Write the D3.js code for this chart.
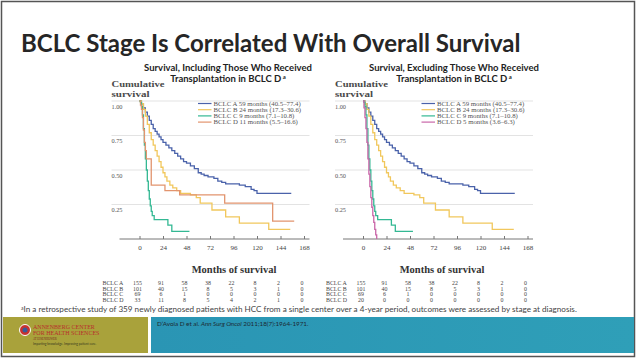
<!DOCTYPE html>
<html><head><meta charset="utf-8">
<script src="https://cdn.jsdelivr.net/npm/d3@7"></script>
<style>body{margin:0;background:#fff;}svg{display:block}</style>
</head><body><svg id="c" width="637" height="360"></svg>
<script>
// ---------- data ----------
const tickMonths = [0, 24, 48, 72, 96, 120, 144, 168];
const survTicks = [0.25, 0.50, 0.75, 1.00];
const stageNames = ["BCLC A", "BCLC B", "BCLC C", "BCLC D"];
const legendIncl = ["BCLC A 59 months (40.5–77.4)", "BCLC B 24 months (17.3–30.6)", "BCLC C 9 months (7.1–10.8)", "BCLC D 11 months (5.5–16.6)"];
const legendExcl = ["BCLC A 59 months (40.5–77.4)", "BCLC B 24 months (17.3–30.6)", "BCLC C 9 months (7.1–10.8)", "BCLC D 5 months (3.6–6.3)"];
// [month, cumulative survival]
const survA = [[0,1],[2,0.98],[4,0.95],[6,0.92],[8,0.89],[10,0.86],[12,0.83],[14,0.80],[16,0.78],[18,0.76],[20,0.74],[22,0.72],[24,0.70],[27,0.68],[30,0.66],[33,0.64],[36,0.62],[39,0.60],[42,0.58],[45,0.56],[48,0.55],[52,0.53],[56,0.51],[60,0.48],[63,0.47],[66,0.46],[70,0.45],[76,0.44],[80,0.42],[84,0.41],[88,0.40],[102,0.39],[108,0.38],[114,0.36],[117,0.35],[120,0.33],[155,0.33]];
const survB = [[0,1],[2,0.98],[4,0.94],[6,0.89],[8,0.83],[10,0.77],[12,0.72],[14,0.68],[16,0.64],[18,0.60],[20,0.56],[22,0.52],[24,0.48],[26,0.45],[28,0.42],[31,0.39],[34,0.37],[38,0.35],[42,0.33],[52,0.32],[58,0.30],[62,0.26],[74,0.21],[88,0.16],[102,0.115],[132,0.07],[154,0.07]];
const survC = [[0,1],[1,0.99],[2,0.96],[3,0.90],[4,0.80],[5,0.68],[6,0.58],[7,0.50],[8,0.42],[9,0.35],[10,0.29],[11,0.24],[12,0.20],[13,0.17],[15,0.14],[28,0.14],[29,0.10],[33,0.055],[51,0.055]];
const survDIncl = [[0,1],[1,0.97],[2,0.94],[3,0.88],[4,0.79],[5,0.70],[6,0.64],[7,0.58],[12,0.39],[26,0.35],[41,0.32],[87,0.26],[136,0.13],[158,0.13]];
const survDExcl = [[0,1],[1,0.95],[2,0.88],[3,0.80],[4,0.70],[5,0.58],[6,0.47],[7,0.38],[8,0.30],[9,0.23],[10,0.17],[11,0.12],[12,0.07],[13,0.03],[14,0]];
const riskA = [155, 91, 58, 38, 22, 8, 2, 0];
const riskB = [101, 40, 15, 8, 5, 3, 1, 0];
const riskC = [69, 6, 1, 0, 0, 0, 0, 0];
const riskDIncl = [33, 11, 8, 5, 4, 2, 1, 0];
const riskDExcl = [20, 0, 0, 0, 0, 0, 0, 0];

// ---------- drawing ----------
const svg = d3.select("#c");
const serif = "'Liberation Serif','Times New Roman',serif";
const sans = "Lato,'Open Sans',sans-serif";
const colA = "#4a62aa", colB = "#f1c75c", colC = "#33b893", colDi = "#e2946e", colDe = "#c966a8";

svg.append("rect").attr("x",1.5).attr("y",1.5).attr("width",633).attr("height",355)
  .attr("fill","#fff").attr("stroke","#555").attr("stroke-width",1.5);

svg.append("text").attr("x",21).attr("y",52).attr("font-family",sans).attr("font-weight",700)
  .attr("font-size",24).attr("fill","#262626").text("BCLC Stage Is Correlated With Overall Survival");

function panel(x0, t1, t2, curves, colors, legend, risks, msCenter, tc) {
  const g = svg.append("g");
  const x = d3.scaleLinear().domain([0,168]).range([x0, x0+164.5]);
  const y = d3.scaleLinear().domain([0,1]).range([239, 101]);
  g.append("text").attr("x",tc).attr("y",70.5).attr("text-anchor","middle").attr("font-family",sans)
    .attr("font-weight",700).attr("font-size",9.5).attr("fill","#222").text(t1);
  const tt = g.append("text").attr("x",tc).attr("y",82).attr("text-anchor","middle").attr("font-family",sans)
    .attr("font-weight",700).attr("font-size",9.5).attr("fill","#222").text(t2);
  tt.append("tspan").attr("dy",-3).attr("font-size",6).text(" a");
  g.append("text").attr("x",x0-28).attr("y",87.3).attr("font-family",serif).attr("font-weight",700)
    .attr("font-size",8.8).attr("fill","#4a4a4a").attr("textLength",53).attr("lengthAdjust","spacingAndGlyphs").text("Cumulative");
  g.append("text").attr("x",x0-28).attr("y",97).attr("font-family",serif).attr("font-weight",700)
    .attr("font-size",8.8).attr("fill","#4a4a4a").attr("textLength",38).attr("lengthAdjust","spacingAndGlyphs").text("survival");
  // grid
  g.selectAll(".grid").data(survTicks).join("line")
    .attr("x1",x0-28).attr("x2",x0+170).attr("y1",d=>y(d)).attr("y2",d=>y(d))
    .attr("stroke","#dcdcdc").attr("stroke-width",0.8);
  g.selectAll(".yl").data(survTicks).join("text")
    .attr("x",x0-28).attr("y",d=>y(d)+7.5).attr("font-family",serif).attr("font-size",6.3)
    .attr("fill","#555").text(d=>d3.format(".2f")(d));
  // x axis
  g.append("line").attr("x1",x0-20).attr("x2",x0+170).attr("y1",y(0)).attr("y2",y(0))
    .attr("stroke","#777").attr("stroke-width",1);
  const ax = g.append("g").attr("transform",`translate(0,${y(0)})`)
    .call(d3.axisBottom(x).tickValues(tickMonths).tickSize(-3).tickSizeOuter(0).tickPadding(6));
  ax.select(".domain").remove();
  ax.selectAll(".tick line").attr("stroke","#777");
  ax.selectAll(".tick text").attr("font-family",serif).attr("font-size",7).attr("fill","#444");
  // curves
  const line = d3.line().curve(d3.curveStepAfter).x(d=>x(d[0])).y(d=>y(d[1]));
  curves.forEach((c,i)=>{
    g.append("path").attr("d",line(c)).attr("fill","none").attr("stroke",colors[i]).attr("stroke-width",1.3);
  });
  // legend
  legend.forEach((t,i)=>{
    const ly = 103.5 + i*6.2;
    g.append("line").attr("x1",x0+58.5).attr("x2",x0+72).attr("y1",ly).attr("y2",ly)
      .attr("stroke",colors[i]).attr("stroke-width",1.2);
    g.append("text").attr("x",x0+74).attr("y",ly+2).attr("font-family",serif).attr("font-size",6.8)
      .attr("fill","#555").text(t);
  });
  // months label
  g.append("text").attr("x",msCenter).attr("y",272.5).attr("text-anchor","middle").attr("font-family",serif)
    .attr("font-weight",700).attr("font-size",10.5).attr("fill","#333").text("Months of survival");
  // risk table
  risks.forEach((r,i)=>{
    const ry = 285 + i*5.7;
    g.append("text").attr("x",x0-37).attr("y",ry).attr("font-family",serif).attr("font-size",5.9)
      .attr("fill","#444").text(stageNames[i]);
    g.selectAll(null).data(r).join("text").attr("x",(d,j)=>x(tickMonths[j])-2).attr("y",ry)
      .attr("text-anchor","middle").attr("font-family",serif).attr("font-size",5.9).attr("fill","#444").text(d=>d);
  });
}

panel(139.5, "Survival, Including Those Who Received", "Transplantation in BCLC D",
  [survA, survB, survC, survDIncl], [colA, colB, colC, colDi], legendIncl,
  [riskA, riskB, riskC, riskDIncl], 234, 228);
panel(363, "Survival, Excluding Those Who Received", "Transplantation in BCLC D",
  [survA, survB, survC, survDExcl], [colA, colB, colC, colDe], legendExcl,
  [riskA, riskB, riskC, riskDExcl], 442, 454);

// footnote
const fn = svg.append("text").attr("x",21).attr("y",312).attr("font-family",sans).attr("font-size",8.15).attr("fill","#444");
fn.append("tspan").attr("font-size",5).attr("dy",-2).text("a");
fn.append("tspan").attr("dy",2).text("In a retrospective study of 359 newly diagnosed patients with HCC from a single center over a 4-year period, outcomes were assessed by stage at diagnosis.");

// bottom banner
svg.append("rect").attr("x",3).attr("y",317).attr("width",145).attr("height",36).attr("fill","#a9a23b");
const grad = svg.append("defs").append("linearGradient").attr("id","tg");
grad.append("stop").attr("offset","0%").attr("stop-color","#2a95b4");
grad.append("stop").attr("offset","100%").attr("stop-color","#2f9fb8");
svg.append("rect").attr("x",151).attr("y",317).attr("width",483).attr("height",36).attr("fill","url(#tg)");
const cit = svg.append("text").attr("x",157).attr("y",326).attr("font-family",sans).attr("font-size",6.3).attr("fill","#1d2a33");
cit.append("tspan").text("D’Avola D et al. ");
cit.append("tspan").attr("font-style","italic").text("Ann Surg Oncol");
cit.append("tspan").text(" 2011;18(7):1964-1971.");
// logo
svg.append("circle").attr("cx",25).attr("cy",330).attr("r",5.5).attr("fill","#c8322f").attr("stroke","#fff").attr("stroke-width",1);
svg.append("circle").attr("cx",25).attr("cy",330).attr("r",2.5).attr("fill","#3a5a9a");
svg.append("text").attr("x",33).attr("y",329).attr("font-family",serif).attr("font-size",6).attr("fill","#b8302c").text("ANNENBERG CENTER");
svg.append("text").attr("x",33).attr("y",335).attr("font-family",serif).attr("font-size",6).attr("fill","#b8302c").text("FOR HEALTH SCIENCES");
svg.append("text").attr("x",33).attr("y",339.5).attr("font-family",serif).attr("font-size",3).attr("fill","#7a2a20").text("AT EISENHOWER");
svg.append("text").attr("x",33).attr("y",345).attr("font-family",sans).attr("font-size",3.2).attr("fill","#3a3a20").text("Imparting knowledge. Improving patient care.");
</script></body></html>
